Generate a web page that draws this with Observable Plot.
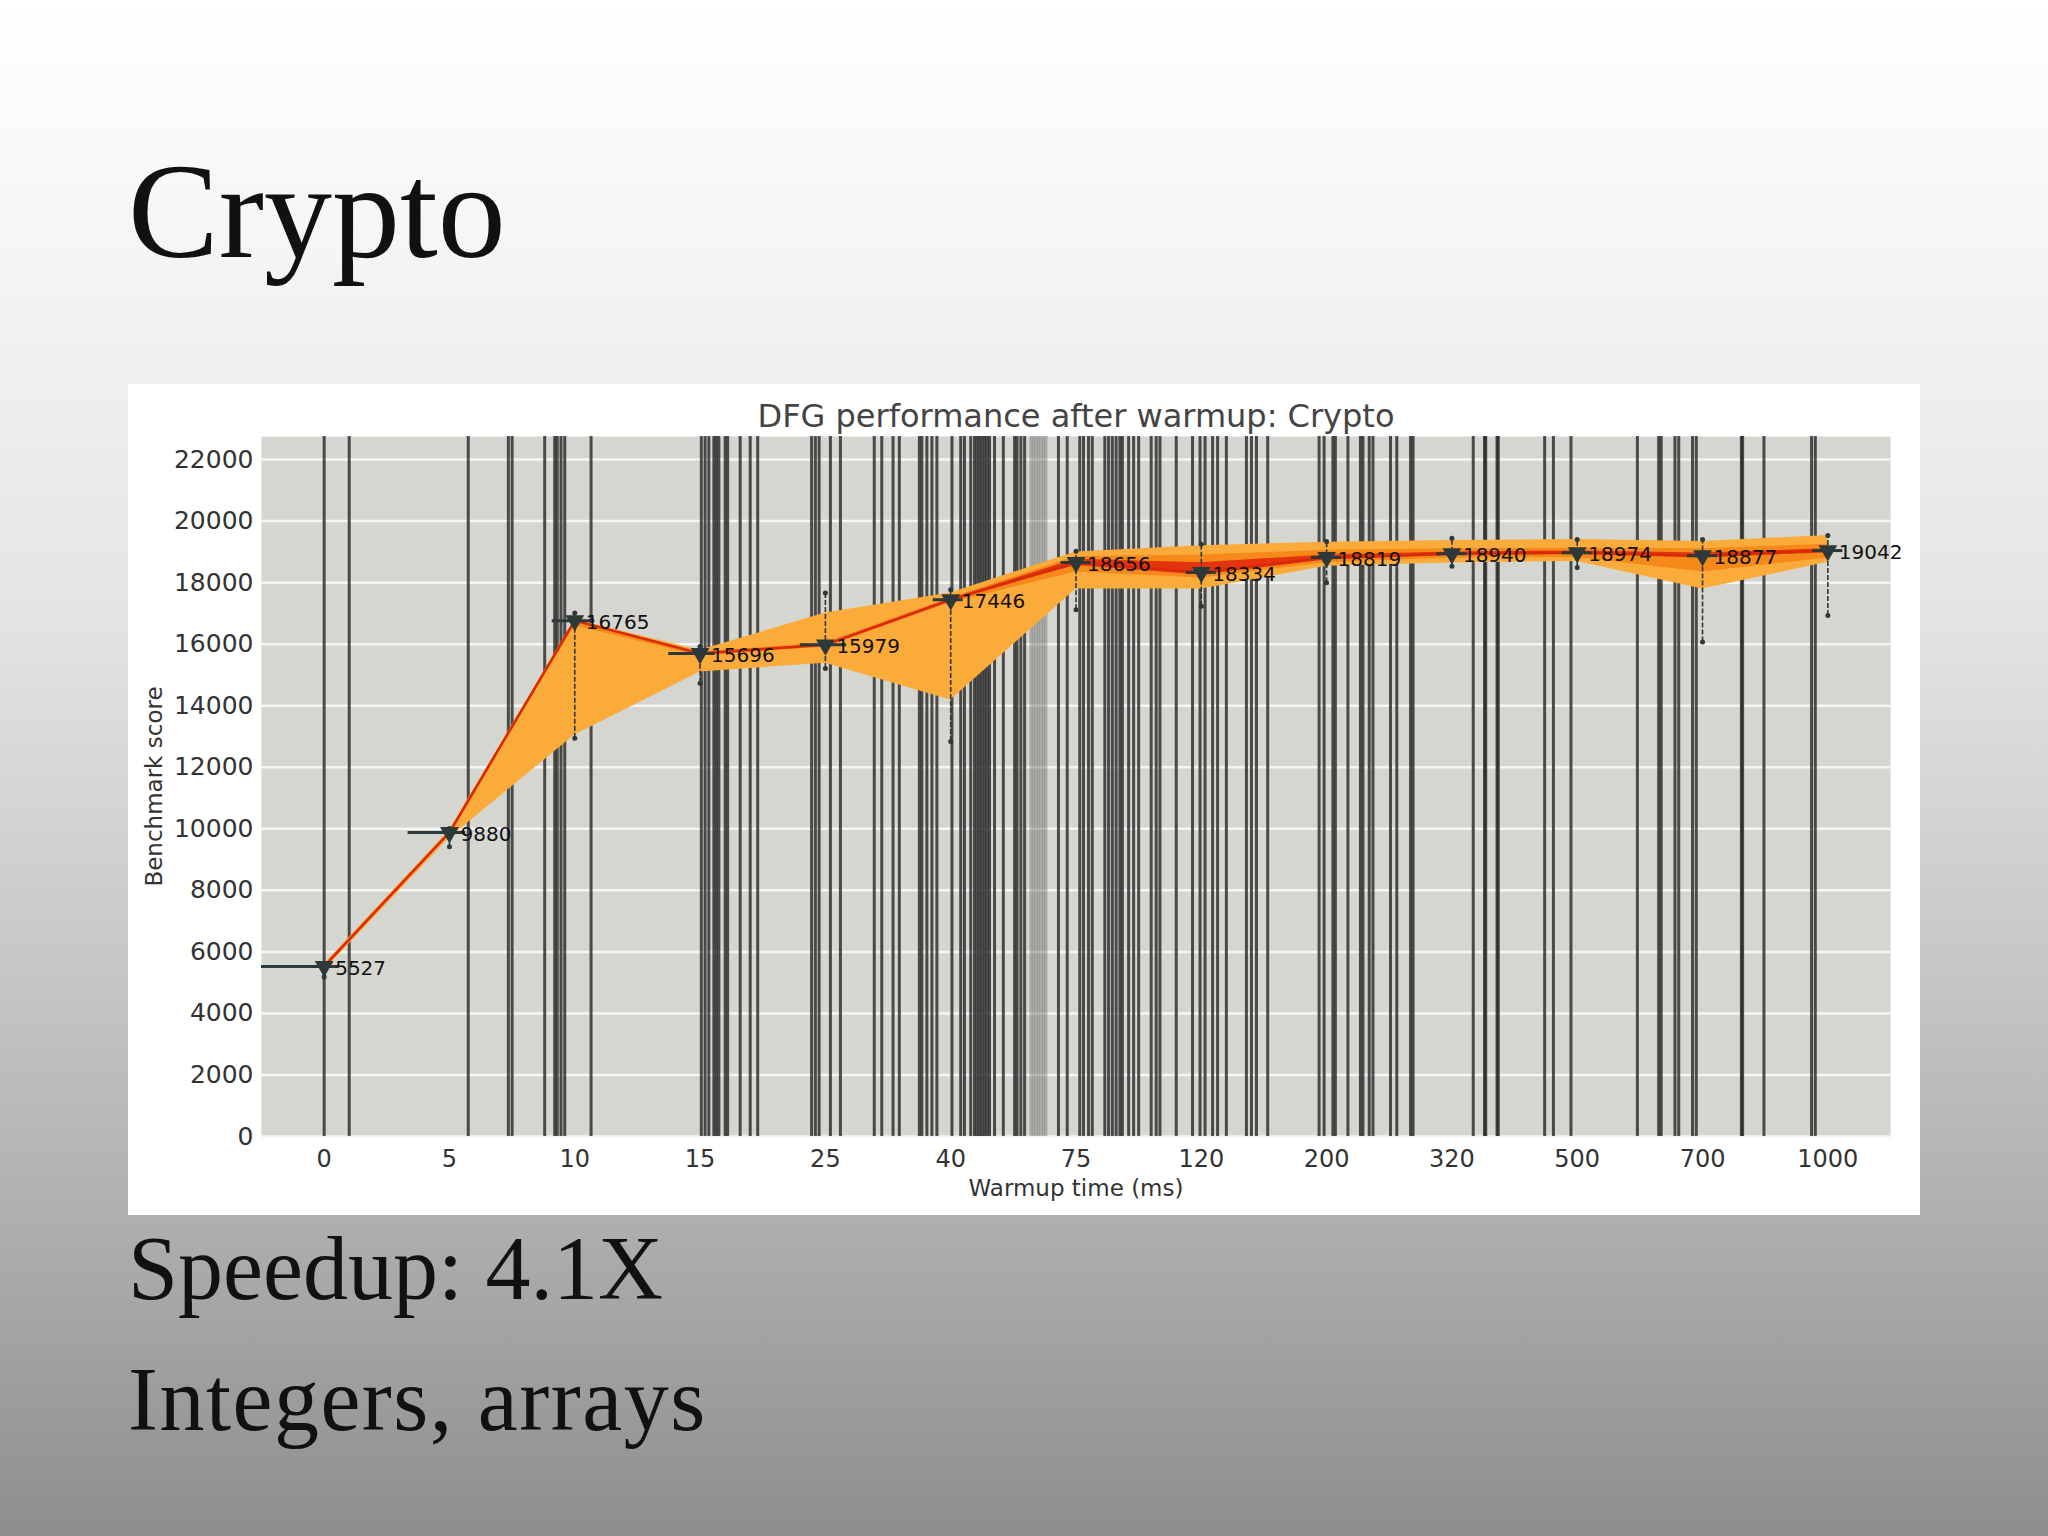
<!DOCTYPE html>
<html><head><meta charset="utf-8">
<script src="https://cdn.jsdelivr.net/npm/d3@7"></script>
<script src="https://cdn.jsdelivr.net/npm/@observablehq/plot@0.6"></script>
<style>
html,body{margin:0;padding:0;}
body{width:2048px;height:1536px;position:relative;overflow:hidden;
 background:linear-gradient(to bottom,#ffffff 0%,#f6f6f6 15%,#e4e4e4 40%,#c4c4c4 65%,#a6a6a6 85%,#8e8e8e 100%);}
.serif{position:absolute;left:128px;font-family:"Liberation Serif","DejaVu Serif",serif;color:#111;line-height:1;white-space:nowrap;}
#panel{position:absolute;left:128px;top:384px;width:1792px;height:831px;background:#fff;}
#ctitle{position:absolute;left:0;width:1792px;top:16px;text-align:center;font-family:"DejaVu Sans";font-size:32px;line-height:1;color:#444;padding-left:104px;box-sizing:border-box;}
#chart{position:absolute;left:0;top:0;}
</style>
</head><body>
<div class="serif" style="top:143px;font-size:136px;">Crypto</div>
<div id="panel">
  <div id="chart"></div>
  <div id="ctitle">DFG performance after warmup: Crypto</div>
</div>
<div class="serif" style="top:1224px;font-size:90px;">Speedup: 4.1X</div>
<div class="serif" style="top:1355px;font-size:90px;letter-spacing:1.5px;">Integers, arrays</div>
<script>
// Categories (warmup time, ms)
const labels = ["0","5","10","15","25","40","75","120","200","320","500","700","1000"];
// Median benchmark scores (labelled)
const medians = [5527, 9880, 16765, 15696, 15979, 17446, 18656, 18334, 18819, 18940, 18974, 18877, 19042];
// Outer band
const outerLo = [5400, 9700, 13050, 15100, 15380, 14190, 17790, 17790, 18530, 18640, 18690, 17790, 18660];
const outerHi = [5600, 9950, 16800, 15800, 17010, 17660, 19000, 19200, 19310, 19370, 19400, 19340, 19530];
// Middle band
const midLo = [5470, 9830, 16600, 15620, 15900, 17350, 18350, 18150, 18650, 18800, 18820, 18350, 18800];
const midHi = [5570, 9920, 16790, 15740, 16050, 17500, 18850, 18900, 19050, 19100, 19120, 19100, 19250];
// Inner band
const innerLo = [5510, 9865, 16740, 15680, 15955, 17420, 18560, 18250, 18740, 18880, 18920, 18800, 18970];
const innerHi = [5545, 9895, 16780, 15715, 16000, 17470, 18760, 18650, 18900, 19000, 19030, 18960, 19100];
// Whisker extents
const whiskLo = [5185, 9415, 12940, 14730, 15210, 12840, 17120, 17230, 18000, 18530, 18490, 16070, 16930];
const whiskHi = [5565, 10010, 17010, 15925, 17660, 17770, 19020, 19250, 19340, 19440, 19400, 19400, 19530];
// Horizontal bar extents around each median (in category units)
const barLeft  = [-0.5, -0.33, -0.18, -0.25, -0.2, -0.14, -0.12, -0.12, -0.12, -0.12, -0.12, -0.12, -0.12];
const barRight = [0.12, 0.13, 0.16, 0.12, 0.17, 0.1, 0.12, 0.12, 0.12, 0.12, 0.12, 0.12, 0.12];
// Vertical event lines (positions in category units)
const eventLines = [0, 0.20, 1.15, 1.47, 1.50, 1.76, 1.84, 1.86, 1.89, 1.92, 2.13, 3.01, 3.04, 3.07, 3.11, 3.13, 3.15, 3.20, 3.22, 3.32, 3.40, 3.46, 3.89, 3.92, 3.95, 4.04, 4.12, 4.39, 4.45, 4.54, 4.59, 4.75, 4.77, 4.81, 4.85, 4.89, 5.01, 5.08, 5.11, 5.16, 5.19, 5.21, 5.23, 5.25, 5.27, 5.29, 5.31, 5.35, 5.42, 5.51, 5.53, 5.56, 5.59, 5.86, 5.93, 6.03, 6.06, 6.10, 6.13, 6.23, 6.26, 6.29, 6.32, 6.35, 6.37, 6.42, 6.46, 6.50, 6.60, 6.64, 6.67, 6.80, 6.93, 6.99, 7.03, 7.09, 7.13, 7.20, 7.36, 7.40, 7.44, 7.53, 7.94, 7.98, 8.05, 8.07, 8.17, 8.27, 8.29, 8.34, 8.37, 8.51, 8.56, 8.67, 8.69, 9.17, 9.26, 9.27, 9.36, 9.37, 9.74, 9.81, 9.95, 10.48, 10.65, 10.67, 10.78, 10.81, 10.92, 10.95, 11.31, 11.32, 11.49, 11.87, 11.90];
const faintLines = [5.64, 5.66, 5.68, 5.70, 5.72, 5.74, 5.76];
const yTicks = [0, 2000, 4000, 6000, 8000, 10000, 12000, 14000, 16000, 18000, 20000, 22000];

const rows = labels.map((l, i) => ({
  i, label: l, med: medians[i],
  lo: outerLo[i], hi: outerHi[i], mlo: midLo[i], mhi: midHi[i],
  ilo: innerLo[i], ihi: innerHi[i], wlo: whiskLo[i], whi: whiskHi[i],
  bl: i + barLeft[i], br: i + barRight[i]
}));

const dark = "#2d3838";
const chart = Plot.plot({
  width: 1792, height: 831,
  marginLeft: 133, marginRight: 30, marginTop: 52, marginBottom: 79,
  style: {fontFamily: "DejaVu Sans", fontSize: "25px", color: "#333", background: "transparent", overflow: "visible"},
  x: {type: "linear", domain: [-0.5, 12.5]},
  y: {domain: [0, 22750]},
  marks: [
    Plot.frame({fill: "#d5d6d0", stroke: null}),
    Plot.gridY(yTicks, {stroke: "#f5f5f3", strokeOpacity: 1, strokeWidth: 2.5}),
    Plot.ruleX(faintLines, {stroke: "#555", strokeWidth: 3, strokeOpacity: 0.35}),
    Plot.ruleX(eventLines, {stroke: "#262626", strokeWidth: 3, strokeOpacity: 0.8}),
    Plot.areaY(rows, {x: "i", y1: "lo", y2: "hi", fill: "#fbab3a", fillOpacity: 1}),
    Plot.areaY(rows, {x: "i", y1: "mlo", y2: "mhi", fill: "#f5891a", fillOpacity: 1}),
    Plot.areaY(rows, {x: "i", y1: "ilo", y2: "ihi", fill: "#e3330f", fillOpacity: 1}),
    Plot.lineY(rows, {x: "i", y: "med", stroke: "#d92a08", strokeWidth: 2.5}),
    Plot.ruleX(rows, {x: "i", y1: "wlo", y2: "whi", stroke: dark, strokeWidth: 1.6, strokeDasharray: "5,2"}),
    Plot.dot(rows, {x: "i", y: "wlo", r: 2.5, fill: dark, stroke: null}),
    Plot.dot(rows, {x: "i", y: "whi", r: 2.5, fill: dark, stroke: null}),
    Plot.ruleY(rows, {y: "med", x1: "bl", x2: "br", stroke: dark, strokeWidth: 3}),
    Plot.dot(rows, {x: "i", y: "med", symbol: "triangle", r: 7, rotate: 180, fill: dark, stroke: null}),
    Plot.text(rows, {x: "i", y: "med", text: d => String(d.med), textAnchor: "start", dx: 11, dy: 2, fill: "#111", fontSize: 20}),
    Plot.axisY({ticks: yTicks, tickSize: 0, tickPadding: 8, label: null, fontSize: 25, tickFormat: d => String(d)}),
    Plot.axisX({ticks: labels.map((l, i) => i), tickFormat: i => labels[i], tickSize: 0, tickPadding: 13, label: null, fontSize: 24}),
    Plot.text(["Warmup time (ms)"], {frameAnchor: "bottom", lineAnchor: "middle", textAnchor: "middle", dy: 52, fontSize: 23, fill: "#333"}),
    Plot.text(["Benchmark score"], {frameAnchor: "left", textAnchor: "middle", lineAnchor: "middle", rotate: -90, dx: -107, fontSize: 23, fill: "#333"})
  ]
});
document.getElementById("chart").appendChild(chart);
</script>
</body></html>
